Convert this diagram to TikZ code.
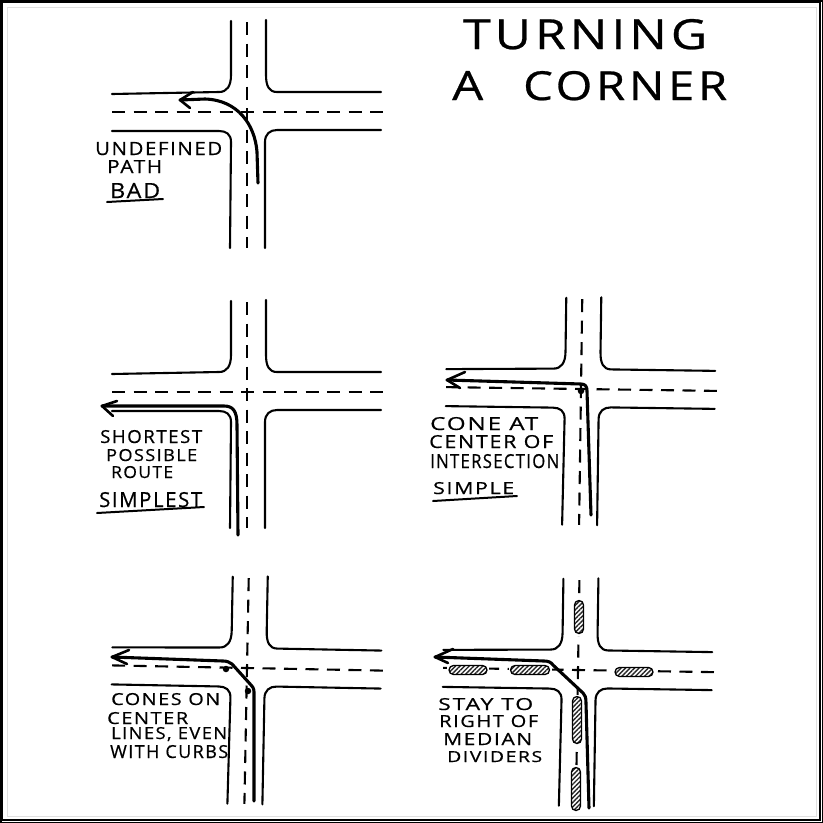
\documentclass[tikz,border=0pt]{standalone}
\usepackage{fontspec}
\setmainfont[LetterSpace=8,FakeBold=0.6]{Open Sans}
\usetikzlibrary{patterns.meta,shapes.misc}
\tikzset{
  curb/.style={line width=2.1pt,line cap=round,black},
  centerline/.style={line width=2.1pt,dash pattern=on 13pt off 8.5pt,black},
  route/.style={line width=3.1pt,line join=round,line cap=round,black},
  barb/.style={line width=2.6pt,line cap=round,line join=round,black},
  uline/.style={line width=2pt,line cap=round,black},
  cone/.style={circle,fill=black,inner sep=0pt,minimum size=6.5pt},
  median/.style={rounded rectangle,draw=black,line width=1.3pt,inner sep=0pt,
     pattern={Lines[angle=45,distance=3.2pt,line width=1.4pt]},pattern color=black!85},
  hand/.style={inner sep=0pt,anchor=base west}
}
% name, x0, x1, top y, baseline y, text
\newcommand{\handlabel}[6]{\pgfmathsetmacro{\hw}{#3-#2}\pgfmathsetmacro{\hh}{#5-#4}%
  \node[hand] (#1) at (#2,#5) {\resizebox{\hw pt}{\hh pt}{#6}};}
% name, centre x, centre y, rotation
\newcommand{\crossing}[4]{%
\begin{scope}[shift={(#2,#3)},rotate=#4]
 \draw[curb] (-16,-91) -- (-16,-37) .. controls (-16,-26) and (-20,-20) .. (-28,-20) -- (-135,-18);
 \draw[curb] (19,-92) -- (19,-37) .. controls (19,-26) and (22,-20) .. (30,-20) -- (134,-20);
 \draw[curb] (-135,19) -- (-28,19) .. controls (-21,19) and (-16,22) .. (-16,30) -- (-17,136);
 \draw[curb] (134,18) -- (30,18) .. controls (23,18) and (18,22) .. (18,30) -- (18,136);
 \draw[centerline] (-135,0) -- (136,0);
 \draw[centerline] (0,-90) -- (0,136);
 \coordinate (#1) at (0,0);
\end{scope}}
\begin{document}
\begin{tikzpicture}[x=1pt,y=-1pt]
\useasboundingbox (0,0) rectangle (823,823);
\fill[white] (0,0) rectangle (823,823);
\draw[black,line width=3pt] (0,0) rectangle (823,823);
\draw[black!12,line width=1pt] (7.5,7.5) rectangle (816,816);
\draw[black,line width=2pt] (2,2) rectangle (820,820);

% panels
\crossing{cA}{247}{112}{0}
\crossing{cB}{247}{392}{0}
\crossing{cC}{581}{389}{-0.8}
\crossing{cD}{247}{668}{-1.1}
\crossing{cE}{578}{670}{-0.9}

% title
\handlabel{tA}{463}{707}{19}{49}{TURNING}
\handlabel{tB}{452}{483}{71}{100}{A}
\handlabel{tC}{523}{727}{71}{100}{CORNER}

% panel 1
\handlabel{a1}{95}{222}{142}{155}{UNDEFINED}
\handlabel{a2}{107}{162}{160}{173}{PATH}
\handlabel{a3}{110}{160}{183}{198}{BAD}
\draw[uline] (a3.base west) ++(-3,4) -- ++(56,-3);
\coordinate (r1s) at (258,183);
\coordinate (r1t) at (180,100);
\draw[route] (r1s) -- (257,152) .. controls (255,125) and (238,100) .. (205,99) -- (r1t);
\draw[barb] (193,92) -- (r1t) -- (190,108);

% panel 2
\handlabel{b1}{100}{202}{430}{443}{SHORTEST}
\handlabel{b2}{106}{197}{449}{461}{POSSIBLE}
\handlabel{b3}{111}{173}{466}{478}{ROUTE}
\handlabel{b4}{99}{202}{492}{507}{SIMPLEST}
\draw[uline] (b4.base west) ++(-2,6) -- ++(107,-6);
\coordinate (r2s) at (238,535);
\coordinate (r2t) at (102,406);
\draw[route] (r2s) -- (237,425) .. controls (237,411) and (233,406) .. (224,406) -- (r2t);
\draw[barb] (117,401) -- (r2t) -- (113,416);

% panel 3
\handlabel{c1}{430}{538}{417}{430}{CONE AT}
\handlabel{c2}{429}{553}{435}{448}{CENTER OF}
\handlabel{c3}{430}{559}{454}{468}{INTERSECTION}
\handlabel{c4}{433}{514}{482}{494}{SIMPLE}
\draw[uline] (c4.base west) ++(0,7) -- ++(84,-5);
\coordinate (r3s) at (591,515);
\coordinate (r3t) at (447,380);
\draw[route] (r3s) -- (587,391) .. controls (587,386) and (585,384) .. (581,384) -- (r3t);
\draw[barb] (465,372) -- (r3t) -- (460,388);
\node[cone] (c5) at (581,391) {};

% panel 4
\handlabel{d1}{111}{220}{693}{705}{CONES ON}
\handlabel{d2}{107}{188}{712}{724}{CENTER}
\handlabel{d3}{111}{227}{727}{739}{LINES, EVEN}
\handlabel{d4}{110}{228}{745}{758}{WITH CURBS}
\coordinate (r4s) at (254,801);
\coordinate (r4t) at (112,657);
\draw[route] (r4s) -- (254,692) .. controls (254,688) and (252,686) .. (251,685) -- (232,664) .. controls (229,662) and (227,661) .. (223,661) -- (r4t);
\draw[barb] (129,650) -- (r4t) -- (127,664);
\node[cone] (d5) at (226,669) {};
\node[cone] (d6) at (248,691) {};

% panel 5
\handlabel{e1}{438}{533}{698}{710}{STAY TO}
\handlabel{e2}{439}{538}{715}{727}{RIGHT OF}
\handlabel{e3}{443}{532}{733}{745}{MEDIAN}
\handlabel{e4}{447}{542}{751}{762}{DIVIDERS}
\foreach \nm/\px/\py/\ln in {m1/468/670/38,m2/530/670/39,m3/634/672/38}{
  \fill[white] (\px-\ln/2-2,\py-5) rectangle (\px+\ln/2+2,\py+5);
  \node[median,minimum width=\ln pt,minimum height=9pt] (\nm) at (\px,\py) {};
}
\foreach \nm/\px/\py/\ln in {m4/579/617/33,m5/577/720/47,m6/576/789/43}{
  \fill[white] (\px-5,\py-\ln/2-2) rectangle (\px+5,\py+\ln/2+2);
  \node[median,rotate=90,minimum width=\ln pt,minimum height=9pt] (\nm) at (\px,\py) {};
}
\coordinate (r5s) at (589,808);
\coordinate (r5t) at (435,657);
\draw[route] (r5s) -- (586,703) .. controls (586,697) and (585,695) .. (583,693) -- (553,665) .. controls (551,662) and (548,661) .. (544,661) -- (r5t);
\draw[barb] (453,649) -- (r5t) -- (448,663);
\end{tikzpicture}
\end{document}
